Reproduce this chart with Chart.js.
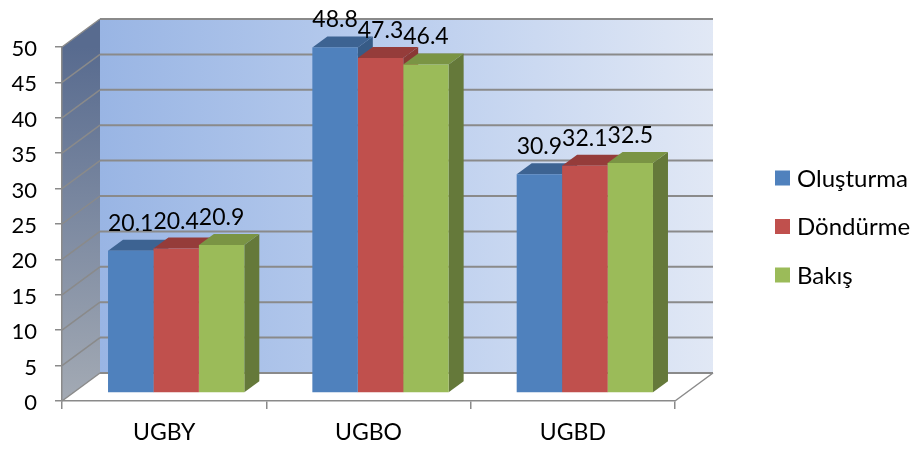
<!DOCTYPE html>
<html lang="tr">
<head>
    <meta charset="UTF-8">
    <title>UGBY / UGBO / UGBD</title>
    <script src="https://cdn.jsdelivr.net/npm/chart.js"></script>
    <style>
        html, body { margin: 0; padding: 0; background: #fff; }
        #wrap { width: 916px; height: 450px; }
    </style>
</head>
<body>
    <div id="wrap"><canvas id="chart"></canvas></div>

    <script>
        // Values
        const categories = ['UGBY', 'UGBO', 'UGBD'];
        const seriesNames = ['Oluşturma', 'Döndürme', 'Bakış'];
        const olusturma = [20.1, 48.8, 30.9];
        const dondurme = [20.4, 47.3, 32.1];
        const bakis = [20.9, 46.4, 32.5];
        const yTickValues = [0, 5, 10, 15, 20, 25, 30, 35, 40, 45, 50];

        // Office 2007 palette: front, top, right side
        const frontColors = ['#4f81bd', '#c0504d', '#9bbb59'];
        const topColors = ['#3d6392', '#953c3a', '#7a9444'];
        const sideColors = ['#375b86', '#8a3835', '#65793a'];

        const FONT = 'Lato';
        const wall = { dx: 38, dy: -28 };     // depth of the walls / floor
        const barShift = { dx: 12, dy: -8 };  // bars sit a bit behind the front plane
        const barDepth = { dx: 15, dy: -11 }; // thickness of each bar
        const gridColor = '#8a8a8a';

        function poly(ctx, pts, fill) {
            ctx.beginPath();
            ctx.moveTo(pts[0][0], pts[0][1]);
            for (let i = 1; i < pts.length; i++) ctx.lineTo(pts[i][0], pts[i][1]);
            ctx.closePath();
            ctx.fillStyle = fill;
            ctx.fill();
        }

        function line(ctx, x1, y1, x2, y2) {
            ctx.beginPath();
            ctx.moveTo(x1, y1);
            ctx.lineTo(x2, y2);
            ctx.stroke();
        }

        // Walls, floor, and the 3D parts of the bars
        const box3d = {
            id: 'box3d',
            beforeDraw(chart) {
                const { ctx, chartArea: a, scales: { y } } = chart;
                const L = a.left, R = a.right;
                const T = y.getPixelForValue(yTickValues[yTickValues.length - 1]);
                const B = y.getPixelForValue(0);
                const dx = wall.dx, dy = wall.dy;
                ctx.save();

                // floor
                poly(ctx, [[L, B], [R, B], [R + dx, B + dy], [L + dx, B + dy]], '#ffffff');

                // back wall
                const g = ctx.createLinearGradient(L + dx, 0, R + dx, 0);
                g.addColorStop(0, '#99b5e4');
                g.addColorStop(0.5, '#bbceee');
                g.addColorStop(1, '#e1e8f5');
                poly(ctx, [[L + dx, T + dy], [R + dx, T + dy], [R + dx, B + dy], [L + dx, B + dy]], g);

                // left wall
                const lg = ctx.createLinearGradient(0, T, 0, B);
                lg.addColorStop(0, '#586b8f');
                lg.addColorStop(1, '#a3aab4');
                poly(ctx, [[L, T], [L + dx, T + dy], [L + dx, B + dy], [L, B]], lg);

                // grid lines on both walls
                ctx.strokeStyle = gridColor;
                y.ticks.forEach(t => {
                    const py = y.getPixelForValue(t.value);
                    ctx.lineWidth = 1.5;
                    line(ctx, L, py, L + dx, py + dy);
                    ctx.lineWidth = 2;
                    line(ctx, L + dx, py + dy, R + dx, py + dy);
                });

                // right edge of the floor
                ctx.lineWidth = 1.5;
                line(ctx, R, B, R + dx, B + dy);
                ctx.restore();
            },
            beforeDatasetsDraw(chart) {
                const ctx = chart.ctx;
                ctx.save();
                ctx.translate(barShift.dx, barShift.dy);
                const dx = barDepth.dx, dy = barDepth.dy;
                categories.forEach((c, j) => {
                    chart.data.datasets.forEach((ds, i) => {
                        const bar = chart.getDatasetMeta(i).data[j];
                        const l = bar.x - bar.width / 2, r = bar.x + bar.width / 2;
                        poly(ctx, [[r, bar.y], [r + dx, bar.y + dy], [r + dx, bar.base + dy], [r, bar.base]], sideColors[i]);
                        poly(ctx, [[l, bar.y], [r, bar.y], [r + dx, bar.y + dy], [l + dx, bar.y + dy]], topColors[i]);
                    });
                });
            },
            afterDatasetsDraw(chart) {
                const ctx = chart.ctx;
                // value labels above each bar
                ctx.font = '23px ' + FONT;
                ctx.fillStyle = '#000';
                ctx.textAlign = 'center';
                ctx.textBaseline = 'alphabetic';
                chart.data.datasets.forEach((ds, i) => {
                    chart.getDatasetMeta(i).data.forEach((bar, j) => {
                        ctx.fillText(ds.data[j].toFixed(1), bar.x, bar.y - 20);
                    });
                });
                ctx.restore();
            },
            afterDraw(chart) {
                // legend on the right
                const ctx = chart.ctx;
                ctx.save();
                ctx.font = '24px ' + FONT;
                ctx.textAlign = 'left';
                ctx.textBaseline = 'middle';
                chart.data.datasets.forEach((ds, i) => {
                    const cy = 178 + i * 48.5;
                    ctx.fillStyle = ds.backgroundColor;
                    ctx.fillRect(775, cy - 7.5, 15, 15);
                    ctx.fillStyle = '#000';
                    ctx.fillText(ds.label, 797, cy + 1);
                });
                ctx.restore();
            }
        };

        const seriesValues = [olusturma, dondurme, bakis];

        new Chart(document.getElementById('chart'), {
            type: 'bar',
            data: {
                labels: categories,
                datasets: seriesValues.map((vals, i) => ({
                    label: seriesNames[i],
                    data: vals,
                    backgroundColor: frontColors[i],
                    borderWidth: 0,
                    barPercentage: 1,
                    categoryPercentage: 0.667,
                    clip: false
                }))
            },
            options: {
                responsive: true,
                maintainAspectRatio: false,
                animation: false,
                devicePixelRatio: 1,
                layout: { padding: { top: 47, right: 241, left: 0, bottom: 0 } },
                plugins: {
                    legend: { display: false },
                    tooltip: { enabled: false }
                },
                scales: {
                    x: {
                        grid: { drawOnChartArea: false, color: gridColor, tickLength: 8, lineWidth: 1.5 },
                        border: { color: gridColor, width: 1.5 },
                        ticks: { color: '#000', font: { family: FONT, size: 23 }, padding: 10 },
                        afterFit(s) { s.height = 49; }
                    },
                    y: {
                        min: 0,
                        max: 50,
                        grid: { drawOnChartArea: false, color: gridColor, tickLength: 7, lineWidth: 1.5 },
                        border: { color: gridColor, width: 1.5 },
                        ticks: { color: '#000', font: { family: FONT, size: 22 }, padding: 18, labelOffset: 2 },
                        afterBuildTicks(s) { s.ticks = yTickValues.map(v => ({ value: v })); },
                        afterFit(s) { s.width = 62; }
                    }
                }
            },
            plugins: [box3d]
        });
    </script>
</body>
</html>
